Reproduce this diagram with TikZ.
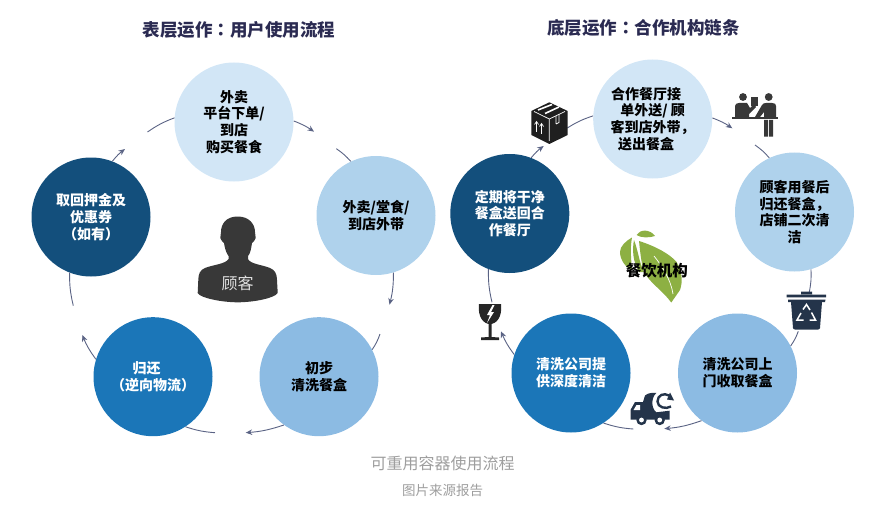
\documentclass[tikz,border=0pt]{standalone}
\usepackage{fontspec}
\usetikzlibrary{arrows.meta}
\setmainfont{Noto Sans CJK SC}
\newfontfamily\tcfont{Noto Sans CJK TC}
\definecolor{titlecol}{HTML}{2B2B52}
\definecolor{linecol}{HTML}{5A6384}
\definecolor{c1}{HTML}{D2E6F6}
\definecolor{c2}{HTML}{AFD2EC}
\definecolor{c3}{HTML}{8CBBE3}
\definecolor{c4}{HTML}{1B76B8}
\definecolor{c5}{HTML}{134F7C}
\definecolor{navy}{HTML}{24344A}
\definecolor{leaf}{HTML}{8DB043}
\tikzset{
  stage/.style={circle, minimum size=119pt, align=center, font=\fontsize{14}{16.8}\selectfont\bfseries},
  link/.style={line width=0.9pt, color=linecol, bend left=7},
  arrowlink/.style={link, -{Stealth[length=6.5pt, width=5.5pt]}},
  head/.style={font=\fontsize{17.5}{20}\selectfont\bfseries, text=titlecol},
}
\begin{document}
\begin{tikzpicture}
[every node/.style={inner sep=0pt}]
\useasboundingbox (0pt,0pt) rectangle (886pt,-508pt);
\node (t1) [head] at (239pt, -30pt) {表层运作{\tcfont ：}用户使用流程};
\node (t2) [head] at (643.5pt, -28pt) {底层运作{\tcfont ：}合作机构链条};
% left cycle
\node (u1) [stage, fill=c1] at (234pt, -122pt) {外卖\\平台下单/\\到店\\购买餐食};
\node (u2) [stage, fill=c2] at (376pt, -215.5pt) {外卖/堂食/\\到店外带};
\node (u3) [stage, fill=c3] at (319pt, -376.7pt) {初步\\清洗餐盒};
\node (u4) [stage, fill=c4, text=white] at (153pt, -376.7pt) {归还\hspace*{13pt}\\（逆向物流）};
\node (u5) [stage, fill=c5, text=white] at (91pt, -217pt) {取回押金及\\优惠券\\（如有）};
\coordinate (ua) at (314pt, -131.7pt);
\coordinate (ub) at (336.3pt, -148.7pt);
\coordinate (uc) at (389.5pt, -304.7pt);
\coordinate (ud) at (380pt, -334pt);
\coordinate (ue) at (245.7pt, -432.7pt);
\coordinate (uf) at (215pt, -432.7pt);
\coordinate (ug) at (82.3pt, -335pt);
\coordinate (uh) at (73.3pt, -305.7pt);
\coordinate (ui) at (125pt, -149pt);
\coordinate (uj) at (147.5pt, -132pt);
\draw [arrowlink] (u1.1) to (ua);
\draw [link] (ub) to (u2.115);
\draw [arrowlink] (u2.-73) to (uc);
\draw [link] (ud) to (u3.27);
\draw [arrowlink] (u3.234) to (ue);
\draw [link] (uf) to (u4.-57);
\draw [arrowlink] (u4.163) to (ug);
\draw [link] (uh) to (u5.249);
\draw [arrowlink] (u5.69) to (ui);
\draw [link] (uj) to (u1.176);
% right cycle
\node (p1) [stage, fill=c1] at (652.7pt, -119pt) {合作餐厅接\hspace*{13pt}\\\mbox{单外送/ 顾}\hspace*{13pt}\\客到店外带，\\送出餐盒\hspace*{13pt}};
\node (p2) [stage, fill=c2] at (794.5pt, -212pt) {顾客用餐后\\归还餐盒，\\店铺二次清\\洁};
\node (p3) [stage, fill=c3] at (737.5pt, -373pt) {清洗公司上\\门收取餐盒};
\node (p4) [stage, fill=c4, text=white] at (571pt, -373pt) {清洗公司提\\供深度清洁};
\node (p5) [stage, fill=c5, text=white] at (509.8pt, -213.5pt) {定期将干净\\餐盒送回合\\作餐厅};
\coordinate (pa) at (732.3pt, -128.3pt);
\coordinate (pb) at (755pt, -145pt);
\coordinate (pc) at (809.3pt, -292pt);
\coordinate (pd) at (798.3pt, -331.3pt);
\coordinate (pe) at (664.3pt, -428.7pt);
\coordinate (pf) at (633.3pt, -429pt);
\coordinate (pg) at (501pt, -331.3pt);
\coordinate (ph) at (492pt, -302.3pt);
\coordinate (pi) at (543.7pt, -146pt);
\coordinate (pj) at (567.3pt, -128pt);
\draw [arrowlink] (p1.1) to (pa);
\draw [link] (pb) to (p2.115);
\draw [link] (p2.-74) to (pc);
\draw [link] (pd) to (p3.27);
\draw [arrowlink] (p3.233.5) to (pe);
\draw [link] (pf) to (p4.-57);
\draw [arrowlink] (p4.162) to (pg);
\draw [link] (ph) to (p5.249);
\draw [arrowlink] (p5.69) to (pi);
\draw [link] (pj) to (p1.177);
% customer
\begin{scope}[x=1pt, y=-1pt]
\fill [color=black!78] (237.7,216.5) .. controls (226,216.5) and (221,224) .. (221,232)
  -- (220.3,238) .. controls (221,241) and (223,242) .. (224,243)
  .. controls (225,250) and (227,254) .. (228.5,256) -- (228.5,259)
  .. controls (226,264) and (212,265) .. (205,268)
  .. controls (200,270) and (198.3,274) .. (198.3,280) -- (197.7,293)
  .. controls (200,298) and (222,302.3) .. (237.7,302.3)
  .. controls (254,302.3) and (275,298) .. (277.7,293) -- (277,280)
  .. controls (277,274) and (275,270) .. (270,268)
  .. controls (263,265) and (250,264) .. (248,259) -- (248,256)
  .. controls (250,254) and (251,250) .. (252,243)
  .. controls (253,242) and (255,241) .. (255.7,238) -- (255,232)
  .. controls (255,224) and (249,216.5) .. (237.7,216.5) -- cycle;
\end{scope}
\node (who) [text=black!12, font=\fontsize{16}{18}\selectfont] at (237.7pt, -283pt) {顾客};
% leaves
\begin{scope}[x=1pt, y=-1pt]
\fill [color=leaf] (636.5,235) .. controls (640,229) and (650,229) .. (655,236) .. controls (649,238) and (641,238) .. (636.5,235) -- cycle;
\fill [color=leaf] (632,237.5) .. controls (626,241) and (620,246) .. (620,252) .. controls (620,260) and (626,268) .. (632,270) .. controls (631,258) and (630,248) .. (632,237.5) -- cycle;
\fill [color=leaf] (634,240) .. controls (632,250) and (633,262) .. (639,272) -- (644,272) .. controls (639,262) and (638,250) .. (634,240) -- cycle;
\fill [color=leaf] (639,241) .. controls (655,246) and (670,254) .. (676.5,262) .. controls (682,270) and (683,282) .. (680,290) -- (671.3,302.5) .. controls (662,290) and (650,283) .. (644,272) .. controls (641,262) and (640,250) .. (639,241) -- cycle;
\draw [white, line width=0.7pt] (654,256) .. controls (662,266) and (671,280) .. (673,294);
\end{scope}
\node (org) [font=\fontsize{15.5}{18}\selectfont\bfseries] at (656.8pt, -270.7pt) {餐饮机构};
% box
\begin{scope}[x=1pt, y=-1pt]
\fill [color=black!88] (549.3,102.3) -- (567.7,111) -- (567.7,135) -- (549.3,144) -- (531.3,135) -- (531.3,111) -- cycle;
\draw [white, line width=0.7pt] (534,111.5) -- (549.3,119) -- (565,111.5) (549.3,119) -- (549.3,141);
\draw [white, line width=1.6pt] (538,110) -- (552,104.5) (545,113.5) -- (559,107);
\draw [white, line width=0.7pt] (536.5,122) -- (536.5,132) (534.5,124.5) -- (536.5,121.5) -- (538.5,124.5) (541.5,124) -- (541.5,134) (539.5,126.5) -- (541.5,123.5) -- (543.5,126.5);
\draw [white, line width=0.7pt] (556,124) -- (556,116) (556,124) -- (559,122.5) -- (559,114.5);
\end{scope}
% counter
\begin{scope}[x=1pt, y=-1pt]
\fill [color=black!78] (743,97) circle (3.9pt) (768.7,97) circle (3.9pt);
\fill [color=black!78] (732.3,117) rectangle (777.7,119.4);
\fill [color=black!78] (735,117) -- (735,106) .. controls (735,104) and (737,103) .. (739,103) -- (747,103) -- (750,108) -- (754,104) -- (756,107) -- (749,114) -- (749,117) -- cycle;
\fill [color=black!78] (751,97) -- (757.5,97) -- (757.5,106) -- (751,106) -- cycle;
\fill [color=black!78] (755,117) -- (762,105) .. controls (763,103.5) and (764,103) .. (766,103) -- (772,103) .. controls (775,103) and (776,104) .. (776,106) -- (776,117) -- (764,117) -- (764,112) -- (760,117) -- cycle;
\fill [color=black!78] (764,120) rectangle (768,136.7) (769,120) rectangle (773,136.7);
\end{scope}
% bin
\begin{scope}[x=1pt, y=-1pt]
\fill [color=navy] (801,291.5) rectangle (812,294) (786.7,294.5) rectangle (826,297.3);
\fill [color=navy] (788,299.5) -- (825.5,299.5) -- (825,302) -- (822,302) -- (820,328) .. controls (820,329) and (819,329.5) .. (818,329.5) -- (795,329.5) .. controls (794,329.5) and (793,329) .. (793,328) -- (791,302) -- (788,302) -- cycle;
\draw [white, line width=1.5pt] (803,309.5) -- (806.5,304.5) -- (810,310)
  (811.5,312.5) -- (815.5,320) -- (809.5,320)
  (803.5,320) -- (797,320) -- (801,313);
\end{scope}
% truck
\begin{scope}[x=1pt, y=-1pt]
\fill [color=navy] (630.5,418) -- (630.5,410) -- (635,402) -- (643,402) -- (645,395.5) .. controls (648,393) and (652,392.5) .. (656.3,393)
  .. controls (651,398) and (651,408) .. (656.3,412.3) -- (669.7,410.7) -- (669.7,419.5) -- (630.5,419.5) -- cycle;
\fill [white] (633.5,410) -- (636.5,405) -- (640,405) -- (640,410) -- cycle;
\draw [navy, line width=2.4pt] (669,395.5) .. controls (664,392.5) and (657.5,395) .. (657.5,401.5) .. controls (657.5,407.5) and (666,409.5) .. (671,406.5);
\fill [color=navy] (670,392.5) -- (674,400.5) -- (667,399.5) -- cycle;
\fill [color=navy] (641.5,420) circle (5.2pt) (659.7,420) circle (5.2pt);
\fill [white] (641.5,420) circle (2.4pt) (659.7,420) circle (2.4pt);
\end{scope}
% glass
\begin{scope}[x=1pt, y=-1pt]
\fill [color=black!85] (479,304) -- (501,304) .. controls (502,312) and (500,322) .. (491.5,324) -- (491.5,337) -- (499,337.5) -- (499,340) -- (481,340) -- (481,337.5) -- (488.5,337) -- (488.5,324) .. controls (480,322) and (478,312) .. (479,304) -- cycle;
\fill [white] (492.5,305) -- (487,315) -- (490,315) -- (487,323) -- (494,312) -- (491,312) -- (494.5,305) -- cycle;
\end{scope}
% caption
\node (cap) [text=black!38, font=\fontsize{16}{18}\selectfont] at (442.5pt, -463pt) {可重用容器使用流程};
\node (src) [text=black!38, font=\fontsize{13.5}{16}\selectfont] at (442.5pt, -490pt) {图片来源报告};
\end{tikzpicture}
\end{document}
